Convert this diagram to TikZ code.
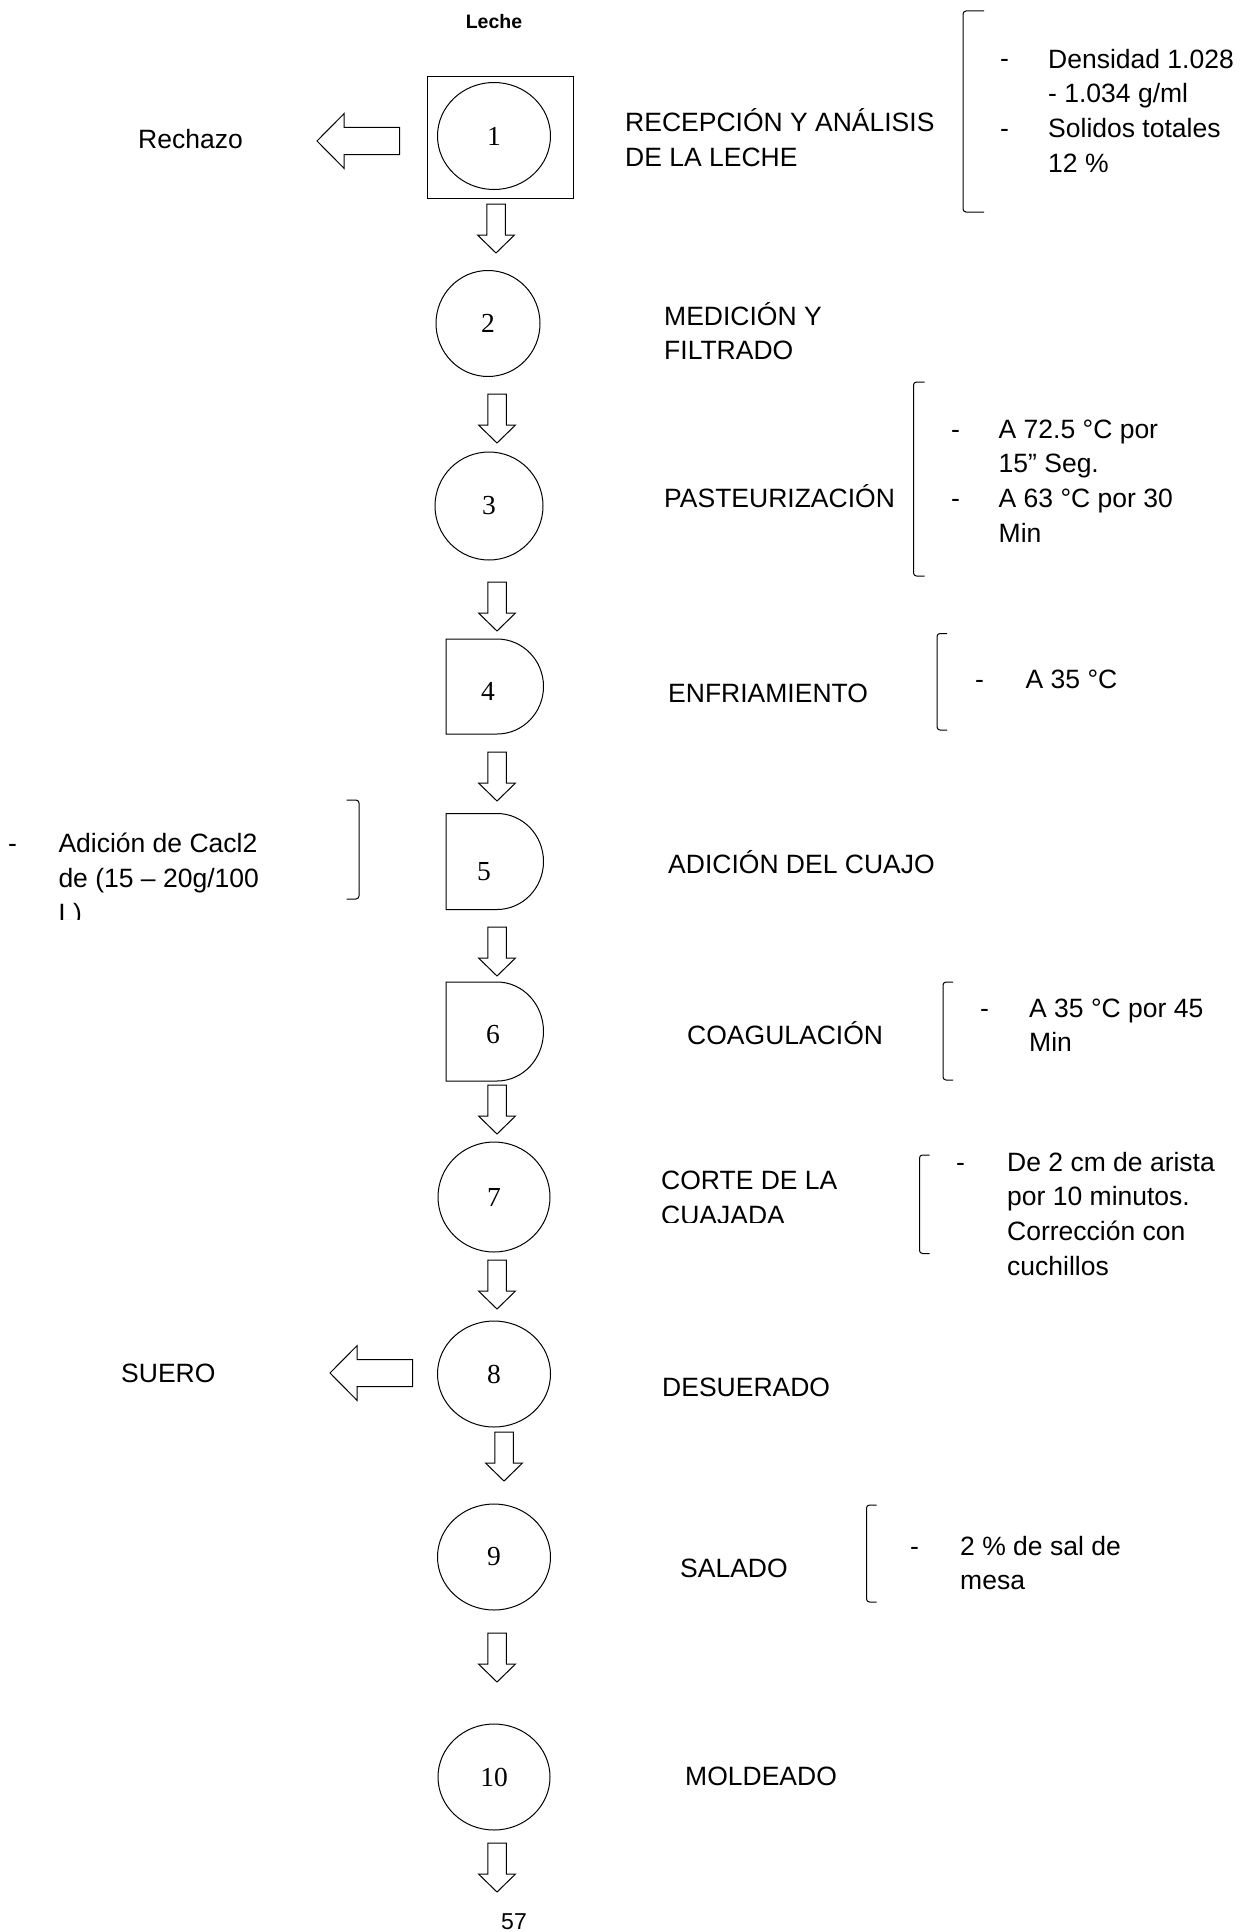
\documentclass[tikz,border=0pt]{standalone}
\usepackage{fontspec}
\setmainfont{Liberation Sans}
\newfontfamily\numfont{Liberation Serif}
\usetikzlibrary{shapes.geometric}
\newcommand\Dpath[3]{%
  \pgfmathsetmacro\dshR{#1+51}%
  \pgfmathsetmacro\dshE{#1+51+46.5}%
  \pgfmathsetmacro\dshK{#1+51+25.7}%
  \pgfmathsetmacro\dshM{(#2+#3)/2}%
  \pgfmathsetmacro\dshT{\dshM-0.5523*(#3-#2)/2}%
  \pgfmathsetmacro\dshB{\dshM+0.5523*(#3-#2)/2}%
  \draw[shapeline] (#1,#2) -- (\dshR,#2) .. controls (\dshK,#2) and (\dshE,\dshT) .. (\dshE,\dshM) .. controls (\dshE,\dshB) and (\dshK,#3) .. (\dshR,#3) -- (#1,#3) -- cycle;}
\newcommand\Lbrk[4]{\draw[brk] (#1+#4,#2) -- (#1,#2) -- (#1,#3) -- (#1+#4,#3);}
\newcommand\Rbrk[4]{\draw[brk] (#1-#4,#2) -- (#1,#2) -- (#1,#3) -- (#1-#4,#3);}
\begin{document}
\begin{tikzpicture}[x=1pt,y=-1pt,
  shapeline/.style={draw=black, line width=1pt, line join=miter},
  stepcircle/.style={ellipse, draw=black, line width=1pt, inner sep=0pt, font=\numfont\fontsize{27.5}{30}\selectfont},
  numlbl/.style={inner sep=0pt, font=\numfont\fontsize{27.5}{30}\selectfont},
  lbl/.style={inner sep=0pt, anchor=base west, align=left, font=\fontsize{26.5}{34.7}\selectfont},
  brk/.style={draw=black, line width=1pt, rounded corners=3pt},
  pics/downarrow/.style={code={\draw[shapeline] (-9.25,0) -- (9.25,0) -- (9.25,31) -- (18.5,31) -- (0,49) -- (-18.5,31) -- (-9.25,31) -- cycle;}},
  pics/leftarrow/.style={code={\draw[shapeline] (0,0) -- (27,-27.3) -- (27,-13.5) -- (82.5,-13.5) -- (82.5,13.5) -- (27,13.5) -- (27,27.3) -- cycle;}}
]
\useasboundingbox (0,0) rectangle (1240,1932);

% ---- step 1
\node[inner sep=0pt, anchor=base, font=\bfseries\fontsize{19.5}{22}\selectfont] (leche) at (494,29) {Leche};
\node[draw=black, line width=1pt, minimum width=146pt, minimum height=121pt, inner sep=0pt] (box1) at (500,137.5) {};
\node[stepcircle, minimum width=113pt, minimum height=107pt] (c1) at (494,136) {1};
\pic (rej) at (317,141) {leftarrow};
\node[lbl] (rechazo) at (138,148) {Rechazo};
\node[lbl] (t1) at (625,166.2) {RECEPCIÓN Y ANÁLISIS\\DE LA LECHE};
\Lbrk{963}{11}{212}{21}
\node[lbl] (d1a) at (1000,68) {-};
\node[lbl] (d1b) at (1000,138) {-};
\node[lbl] (p1) at (1048,172.1) {Densidad 1.028\\- 1.034 g/ml\\Solidos totales\\12 \%};
\pic (a12) at (496,204) {downarrow};

% ---- step 2
\node[stepcircle, minimum width=104pt, minimum height=106pt] (c2) at (488,323.5) {2};
\node[lbl] (t2) at (664,359.7) {MEDICIÓN Y\\FILTRADO};
\pic (a23) at (497,394) {downarrow};

% ---- step 3
\node[stepcircle, minimum width=108pt, minimum height=108pt] (c3) at (489,506) {3};
\node[lbl] (t3) at (664,507.5) {PASTEURIZACIÓN};
\Lbrk{913.5}{382}{576}{11}
\node[lbl] (d3a) at (951,438) {-};
\node[lbl] (d3b) at (951,507) {-};
\node[lbl] (p3) at (998.5,542.1) {A 72.5 °C por\\15” Seg.\\A 63 °C por 30\\Min};
\pic (a34) at (497,582) {downarrow};

% ---- step 4
\Dpath{446}{639}{734}
\node[numlbl] (n4) at (488,691.5) {4};
\node[lbl] (t4) at (668,702.5) {ENFRIAMIENTO};
\Lbrk{937}{633.5}{730}{10}
\node[lbl] (d4) at (975,688) {-};
\node[lbl] (p4) at (1025.5,688) {A 35 °C};
\pic (a45) at (497,752) {downarrow};

% ---- step 5
\Dpath{446}{813.5}{909.5}
\node[numlbl] (n5) at (484,871.5) {5};
\node[lbl] (t5) at (668,873.5) {ADICIÓN DEL CUAJO};
\Rbrk{359}{800}{899}{12.5}
\begin{scope}
\clip (0,780) rectangle (380,919);
\node[lbl] (d5) at (8,852.7) {-};
\node[lbl] (p5) at (58.3,922.1) {Adición de Cacl2\\de (15 – 20g/100\\L)};
\end{scope}
\pic (a56) at (497,927) {downarrow};

% ---- step 6
\Dpath{446}{982}{1081}
\node[numlbl] (n6) at (493,1035) {6};
\node[lbl] (t6) at (687,1044.5) {COAGULACIÓN};
\Lbrk{943}{982}{1080}{10}
\node[lbl] (d6) at (980,1017) {-};
\node[lbl] (p6) at (1029,1051.7) {A 35 °C por 45\\Min};
\pic (a67) at (497,1085) {downarrow};

% ---- step 7
\node[stepcircle, minimum width=112pt, minimum height=110pt] (c7) at (494,1197) {7};
\begin{scope}
\clip (600,1140) rectangle (900,1222);
\node[lbl] (t7) at (661,1224.2) {CORTE DE LA\\CUAJADA};
\end{scope}
\Lbrk{919.5}{1155}{1253.5}{10}
\node[lbl] (d7) at (956,1171) {-};
\node[lbl] (p7) at (1007,1275.1) {De 2 cm de arista\\por 10 minutos.\\Corrección con\\cuchillos};
\pic (a78) at (497,1260) {downarrow};

% ---- step 8
\node[stepcircle, minimum width=113pt, minimum height=106pt] (c8) at (494,1374) {8};
\pic (suero) at (330,1373) {leftarrow};
\node[lbl] (tsuero) at (121,1382.5) {SUERO};
\node[lbl] (t8) at (662,1396.5) {DESUERADO};
\pic (a89) at (504,1432) {downarrow};

% ---- step 9
\node[stepcircle, minimum width=113pt, minimum height=106pt] (c9) at (494,1557) {9};
\node[lbl] (t9) at (680,1577.5) {SALADO};
\Lbrk{866.5}{1505}{1602}{10}
\node[lbl] (d9) at (910,1555) {-};
\node[lbl] (p9) at (960,1589.7) {2 \% de sal de\\mesa};
\pic (a910) at (497,1633) {downarrow};

% ---- step 10
\node[stepcircle, minimum width=112pt, minimum height=106pt] (c10) at (494,1777) {10};
\node[lbl] (t10) at (685,1785.5) {MOLDEADO};
\pic (a10) at (497,1843) {downarrow};

\node[inner sep=0pt, anchor=base, font=\fontsize{23}{26}\selectfont] (page) at (514,1929) {57};
\end{tikzpicture}
\end{document}
